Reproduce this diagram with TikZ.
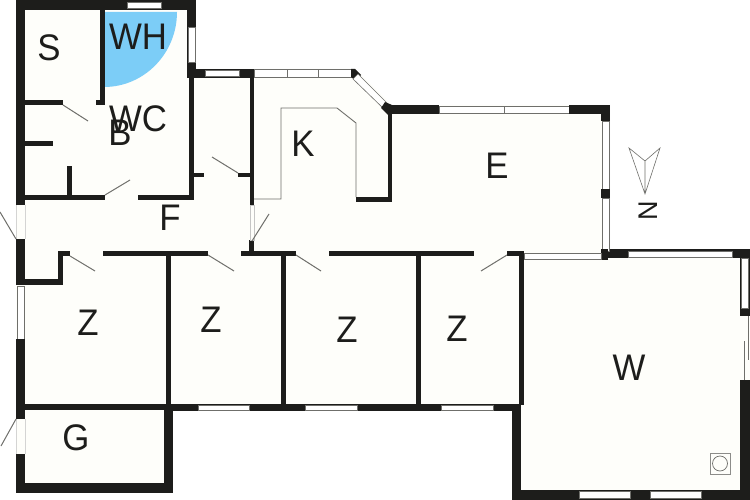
\documentclass[tikz,border=0pt]{standalone}
\usepackage{fontspec}
\setmainfont{Liberation Sans}
\definecolor{wallc}{HTML}{1D1D1B}
\definecolor{floorc}{HTML}{FEFEFA}
\definecolor{skyc}{HTML}{7CCDF7}
\definecolor{thinc}{HTML}{6F6F6B}
\tikzset{
  wallrect/.style={fill=wallc,draw=none},
  winrect/.style={fill=white,draw=thinc,line width=0.6pt},
  leaf/.style={draw=thinc,line width=1pt},
  thinline/.style={draw=thinc,line width=0.9pt},
  lbl/.style={inner sep=0pt,text=wallc,font=\fontsize{37}{37}\selectfont},
  lblsmall/.style={inner sep=0pt,text=wallc,font=\fontsize{27}{27}\selectfont}
}
\newcommand{\wl}[4]{\fill[wallrect] (#1,#2) rectangle (#3,#4);}
\newcommand{\wn}[4]{\path[winrect] (#1,#2) rectangle (#3,#4);}
\newcommand{\nar}[1]{\scalebox{0.94}[1]{#1}}
\begin{document}
\begin{tikzpicture}[x=1pt,y=-1pt]
\useasboundingbox (0,0) rectangle (750,500);
\fill[white] (0,0) rectangle (750,500);
% floor
\fill[floorc] (16,0) -- (195,0) -- (195,69) -- (355,69) -- (392,105) -- (610,105) -- (610,250) -- (750,250) -- (750,500) -- (512,500) -- (512,410) -- (172,410) -- (172,492) -- (16,492) -- cycle;
% blue swing
\fill[skyc] (104,12) -- (177,12) .. controls (177,53.4) and (144.3,87) .. (104,87) -- cycle;
% outer walls, upper left
\wl{16}{0}{195.5}{10}
\wn{127}{2}{161}{8}
\wl{187}{0}{195.5}{78}
\wn{188}{27}{195}{62}
\wl{16}{0}{25}{205}
\wl{187}{69}{255}{78}
\wn{205}{70.5}{239}{76.5}
\wl{189}{77}{194}{200}
\wl{25}{195}{105}{200}
\wl{138}{195}{194}{200}
\wl{100}{10}{104.5}{105.5}
\wl{25}{100.5}{63}{105.5}
\wl{96}{100.5}{104.5}{105.5}
\wl{25}{141}{53}{146}
\wl{67}{166}{72}{197}
% hall
\wl{194}{173}{204}{177.5}
\wl{238}{173}{250}{177.5}
\wl{249.5}{72}{254}{205}
\wl{249}{240}{253.5}{252}
% left side
\wl{16}{239}{25}{285}
\wl{25}{279}{63}{284.5}
\wl{58}{251}{63}{284.5}
\wn{17}{286}{24}{339}
\wl{16}{339}{25}{419}
\wl{16}{454}{25}{493}
\wl{16}{483}{172.5}{493}
\wl{164}{404}{172.5}{493}
\wl{25}{404}{165}{410}
% corridor wall
\wl{58}{251}{70}{256}
\wl{103}{251}{208}{256}
\wl{241}{251}{296}{256}
\wl{329}{251}{474}{256}
\wl{507}{251}{524}{256}
% partition walls
\wl{165.5}{254}{170.5}{405}
\wl{281}{254}{286}{405}
\wl{415.5}{254}{420.5}{405}
\wl{519}{251}{524}{405}
% south wall
\wl{165}{403.5}{521}{411}
\wn{198}{405}{249}{410.5}
\wn{305}{405}{357}{410.5}
\wn{441}{405}{493}{410.5}
% W room
\wl{512}{404}{521}{500}
\wl{512}{490}{750}{500}
\wn{579}{491.5}{630}{498}
\wn{650}{491.5}{701}{498}
\wl{740}{380}{750}{500}
\wl{601}{249}{750}{258}
\wn{628}{251}{732}{257}
\wl{740}{258}{750}{316}
\wn{741}{258}{748}{308}
\draw[thinline] (744.5,341) -- (744.5,380);
\draw[thinline] (748.5,316) -- (748.5,360);
% E room
\wl{390}{105}{439}{114}
\wn{439}{106.5}{504}{113}
\wn{504}{106.5}{569}{113}
\wl{569}{105}{610}{114}
\wl{601}{105}{610}{121}
\wn{602}{121}{609}{189}
\wl{601}{189}{610}{198}
\wn{602}{198}{609}{251}
\wl{601}{249}{608}{260}
\wn{524}{253.5}{601}{259.5}
% kitchen
\wn{254}{69}{287}{77}
\wn{287}{69}{318}{77}
\wn{318}{69}{352}{77}
\fill[wallc] (351,69) -- (355,69) -- (361,75) -- (356,81) -- (351,77) -- cycle;
\path[winrect] (358,74) -- (388,104) -- (384,109) -- (353,79) -- cycle;
\fill[wallc] (385,102) -- (392,105) -- (392,114) -- (388,115) -- (381,108) -- cycle;
\wl{388}{105}{392}{202}
\wl{356}{196.5}{392}{202}
\draw[thinline] (254,199) -- (281,199) -- (281,108) -- (337,108) -- (356,123) -- (356,197);
% door gap jambs
\draw[draw=thinc!40,line width=0.5pt] (250,205) rectangle (254,240);
\draw[draw=thinc!30,line width=0.5pt] (16,205) -- (16,239) (25,205) -- (25,239) (16,419) -- (16,454) (25,419) -- (25,454);
% door leaves
\draw[leaf] (16,239) -- (0,212);
\draw[leaf] (16,419) -- (1,446);
\draw[leaf] (63,105) -- (88,121);
\draw[leaf] (105,195) -- (130,180);
\draw[leaf] (238,173) -- (212,157);
\draw[leaf] (252,241) -- (269,214);
\draw[leaf] (70,256) -- (95,271);
\draw[leaf] (208,255) -- (234,271);
\draw[leaf] (296,255) -- (321,271);
\draw[leaf] (507,255) -- (481,271);
% stove symbol
\draw[draw=thinc!80,line width=0.7pt,fill=floorc] (710,453.5) rectangle (730,474);
\draw[draw=thinc,line width=0.7pt] (720,463.5) circle (7.5);
% compass
\draw[draw=thinc,line width=0.6pt] (645,194) -- (629,148) -- (645,161) -- (660,148) -- cycle (645,161) -- (645,194);
\node[lblsmall,rotate=90] (north) at (648,210.5) {N};
% labels
\node[lbl] (wh) at (138,37) {\nar{WH}};
\node[lbl] (s) at (49,48) {\nar{S}};
\node[lbl] (wc) at (138,119) {\nar{WC}};
\node[lbl] (b) at (120,133) {\nar{B}};
\node[lbl] (f) at (170,218) {\nar{F}};
\node[lbl] (k) at (303,144) {\nar{K}};
\node[lbl] (e) at (497,166) {\nar{E}};
\node[lbl] (z1) at (88,323) {\nar{Z}};
\node[lbl] (z2) at (211,320) {\nar{Z}};
\node[lbl] (z3) at (347,330) {\nar{Z}};
\node[lbl] (z4) at (457,329) {\nar{Z}};
\node[lbl] (g) at (76,438) {\nar{G}};
\node[lbl] (w) at (629,368) {\nar{W}};
\end{tikzpicture}
\end{document}
